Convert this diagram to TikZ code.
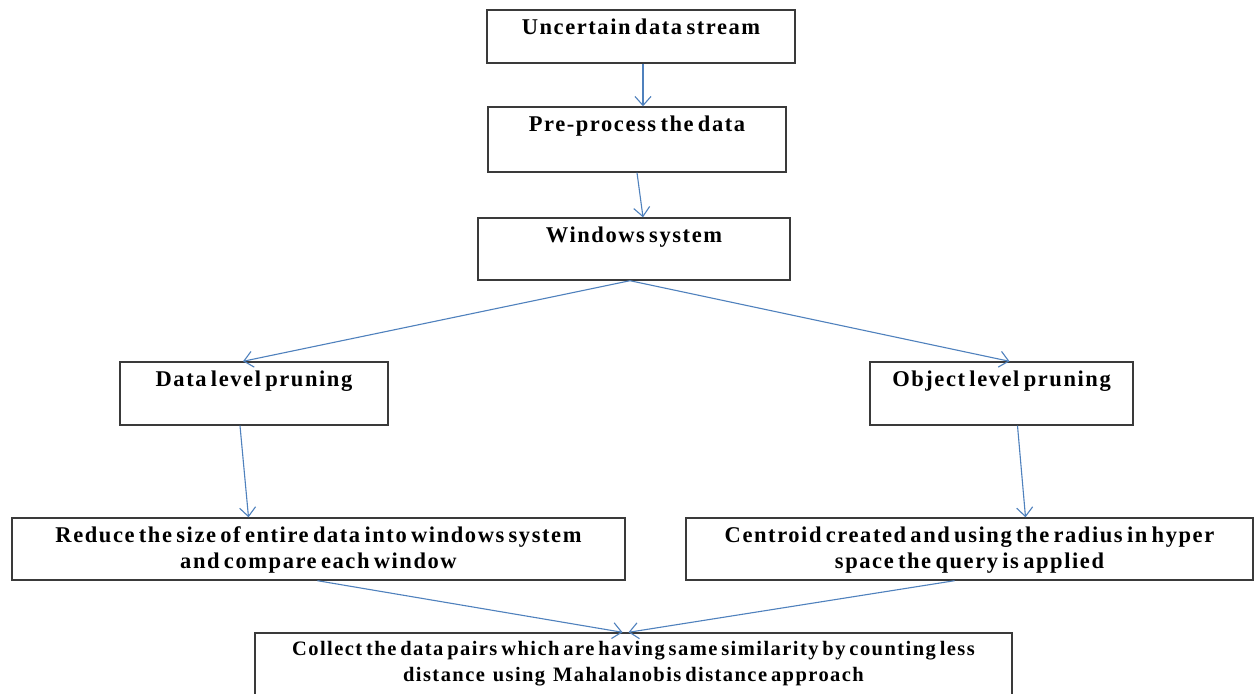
\documentclass[tikz,border=0pt]{standalone}
\usepackage{fontspec}
\setmainfont{Liberation Serif}[LetterSpace=7, WordSpace=0.6]
\usetikzlibrary{arrows.meta}
\definecolor{linkblue}{HTML}{4F81BD}
\definecolor{boxline}{HTML}{3A3A3A}
\tikzset{
  stepbox/.style={draw=boxline, line width=1.4pt, rectangle, inner sep=0pt},
  boxtext/.style={anchor=north, align=center, font=\fontsize{22.5}{26}\selectfont\bfseries, inner sep=0pt},
  smalltext/.style={font=\fontsize{20.5}{26}\selectfont\bfseries},
  arr/.style={draw=linkblue, line width=1.1pt, -{Straight Barb[length=9pt, width=16pt, line width=1.1pt]}}
}
% name, x0, y0, x1, y1, text options, text
\newcommand{\flowbox}[7]{%
  \node[stepbox, minimum width={(#4-#2)*1pt}, minimum height={(#5-#3)*1pt}]
    (#1) at ({(#2+#4)/2}, {(#3+#5)/2}) {};
  \node[boxtext, #6] (#1-t) at ([yshift=-9pt]#1.north) {#7};
}
\begin{document}
\begin{tikzpicture}[x=1pt, y=-1pt]
  \useasboundingbox[fill=white] (0,0) rectangle (1260,693);

  % process boxes
  \flowbox{src}{487}{10}{795}{63}{}{Uncertain data stream}
  \flowbox{pre}{488}{107}{786}{172}{}{Pre-process the data}
  \flowbox{win}{478}{218}{790}{280}{}{Windows system}
  \flowbox{dlp}{120}{362}{388}{425}{}{Data level pruning}
  \flowbox{olp}{870}{362}{1133}{425}{}{Object level pruning}
  \flowbox{red}{12}{518}{625}{580}{}{Reduce the size of entire data into windows system\\and compare each window}
  \flowbox{cen}{686}{518}{1253}{580}{}{Centroid created and using the radius in hyper\\space the query is applied}
  \flowbox{col}{255}{633}{1012}{705}{smalltext}{Collect the data pairs which are having same similarity by counting less\\distance \ using \ Mahalanobis distance approach}

  % connectors
  \draw[arr] ([xshift=2pt]src.south) -- ([xshift=6pt]pre.north);
  \draw[arr] ([xshift=0pt]pre.south) -- ([xshift=9pt]win.north);
  \draw[arr] ([xshift=-4pt]win.south) -- ([xshift=-11pt]dlp.north);
  \draw[arr] ([xshift=-4pt]win.south) -- ([xshift=8pt]olp.north);
  \draw[arr] ([xshift=-14pt]dlp.south) -- ([xshift=-70pt]red.north);
  \draw[arr] ([xshift=16pt]olp.south) -- ([xshift=56pt]cen.north);
  \draw[arr] ([xshift=-1pt]red.south) -- ([xshift=-11pt]col.north);
  \draw[arr] ([xshift=-15pt]cen.south) -- ([xshift=-5pt]col.north);
\end{tikzpicture}
\end{document}
